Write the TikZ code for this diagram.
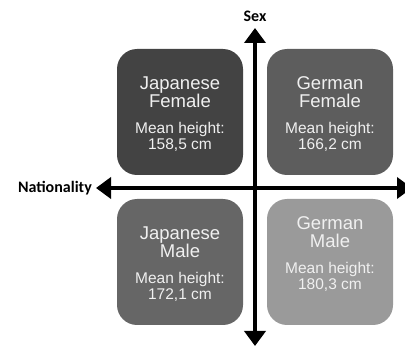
\documentclass[tikz,border=0pt]{standalone}
\usepackage{fontspec}
\setmainfont{Liberation Sans}
\newfontfamily\labelfont{Carlito}
\usetikzlibrary{arrows.meta}
\definecolor{cJF}{HTML}{434343}
\definecolor{cGF}{HTML}{5D5D5D}
\definecolor{cJM}{HTML}{666666}
\definecolor{cGM}{HTML}{9A9A9A}
\definecolor{txt}{HTML}{F0F0F0}
\newcommand{\bigf}{\fontsize{18.5}{18}\selectfont}
\newcommand{\smf}{\fontsize{15.5}{16}\selectfont}
\tikzset{
  quad/.style={draw=none, rounded corners=20pt, minimum width=126pt, minimum height=126pt, inner sep=0pt},
  qtxt/.style={text=txt, align=center, inner sep=0pt, font=\bigf},
  axis/.style={line width=4pt, -{Triangle[width=21pt,length=15pt]}},
  axlabel/.style={font=\labelfont\bfseries\fontsize{16}{18}\selectfont, inner sep=1pt}
}
\newcommand{\qtext}[3]{#1\\#2\\[8pt]\smf Mean height:\\[-2pt]\smf #3}
\begin{document}
\begin{tikzpicture}[x=1pt,y=1pt]
\useasboundingbox (0,0) rectangle (405,346);
\node[quad, fill=cJF] (jf) at (180,234) {};
\node[quad, fill=cGF] (gf) at (330,234) {};
\node[quad, fill=cJM] (jm) at (180,84) {};
\node[quad, fill=cGM] (gm) at (330,84) {};
\node[qtxt] (jft) at ([yshift=-2pt]jf.center) {\qtext{Japanese}{Female}{158,5 cm}};
\node[qtxt] (gft) at ([yshift=-2pt]gf.center) {\qtext{German}{Female}{166,2 cm}};
\node[qtxt] (jmt) at ([yshift=-2pt]jm.center) {\qtext{Japanese}{Male}{172,1 cm}};
\node[qtxt] (gmt) at ([yshift=8pt]gm.center) {\qtext{German}{Male}{180,3 cm}};
\coordinate (c) at (255,158);
\coordinate (top) at (255,318);
\coordinate (bot) at (255,0);
\coordinate (left) at (96,158);
\coordinate (right) at (412,158);
\draw[axis] (c) -- (top);
\draw[axis] (c) -- (bot);
\draw[axis] (c) -- (left);
\draw[axis] (c) -- (right);
\node[axlabel] (sex) at (255,330) {Sex};
\node[axlabel, anchor=east] (nat) at (93,158) {Nationality};
\end{tikzpicture}
\end{document}
